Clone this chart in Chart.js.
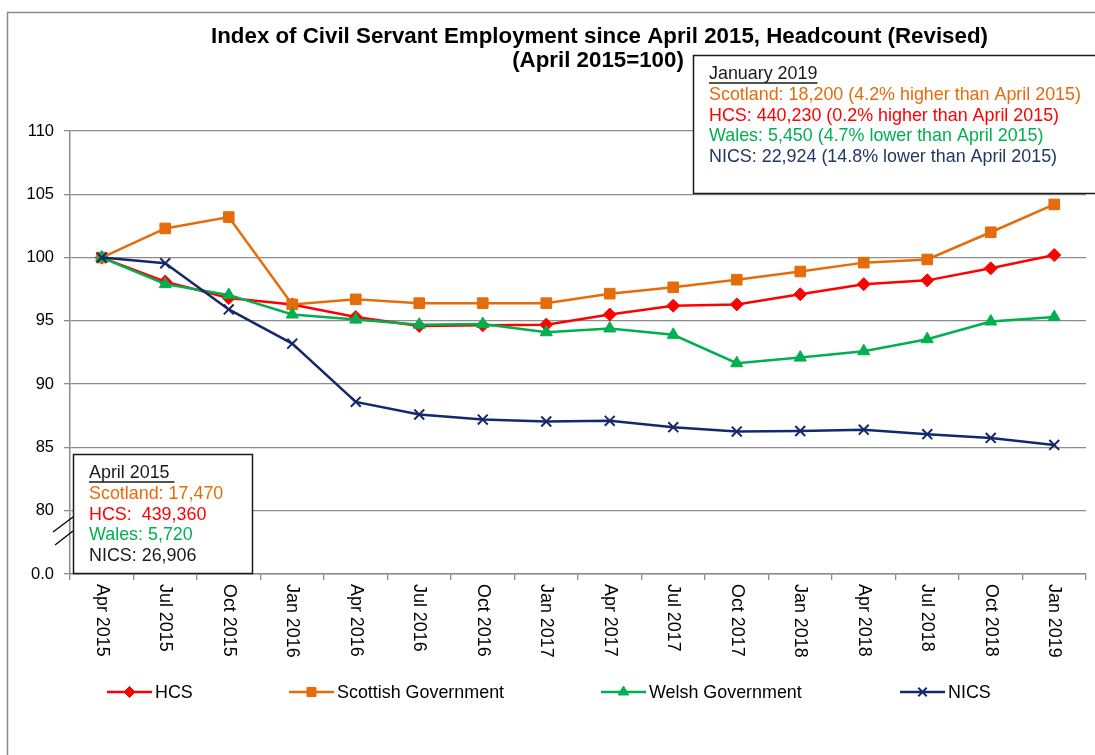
<!DOCTYPE html>
<html>
<head>
<meta charset="utf-8">
<script src="https://cdn.jsdelivr.net/npm/chart.js@4.4.0/dist/chart.umd.min.js"></script>
<style>
  html, body { margin: 0; padding: 0; background: #fff; }
  #wrap { width: 1095px; height: 755px; position: relative; }
</style>
</head>
<body>
<div id="wrap"><canvas id="c" width="1095" height="755"></canvas></div>
<script>
const categories = ["Apr 2015","Jul 2015","Oct 2015","Jan 2016","Apr 2016","Jul 2016","Oct 2016","Jan 2017",
  "Apr 2017","Jul 2017","Oct 2017","Jan 2018","Apr 2018","Jul 2018","Oct 2018","Jan 2019"];
const hcs      = [100, 98.1, 96.8, 96.3, 95.3, 94.6, 94.65, 94.7, 95.5, 96.2, 96.3, 97.1, 97.9, 98.2, 99.15, 100.2];
const scottish = [100, 102.3, 103.2, 96.3, 96.7, 96.4, 96.4, 96.4, 97.15, 97.65, 98.25, 98.9, 99.6, 99.85, 102.0, 104.2];
const welsh    = [100, 97.9, 97.05, 95.5, 95.1, 94.7, 94.75, 94.1, 94.4, 93.9, 91.65, 92.1, 92.6, 93.55, 94.95, 95.3];
const nics     = [100, 99.55, 95.9, 93.2, 88.6, 87.6, 87.2, 87.05, 87.1, 86.6, 86.25, 86.3, 86.4, 86.05, 85.75, 85.2];
const seriesNames = ["HCS", "Scottish Government", "Welsh Government", "NICS"];
const yTicks = [75, 80, 85, 90, 95, 100, 105, 110];
const yTickLabels = ["0.0", "80", "85", "90", "95", "100", "105", "110"];
const titleLines = ["Index of Civil Servant Employment since April 2015, Headcount (Revised)", "(April 2015=100)"];
const janBox = ["January 2019",
  "Scotland: 18,200 (4.2% higher than April 2015)",
  "HCS: 440,230 (0.2% higher than April 2015)",
  "Wales: 5,450 (4.7% lower than April 2015)",
  "NICS: 22,924 (14.8% lower than April 2015)"];
const aprBox = ["April 2015 ", "Scotland: 17,470", "HCS:  439,360", "Wales: 5,720", "NICS: 26,906"];

const C_RED = '#FF0000', C_ORANGE = '#E46C0A', C_GREEN = '#00B050', C_NAVY = '#14296B';
const FONT = '"Liberation Sans", Arial, sans-serif';
const GRID = '#8c8c8c';
const TXT = '17.9px ' + FONT;

const styles = [
  {color: C_RED, pointStyle: 'rectRot', radius: 6.5, order: 4},
  {color: C_ORANGE, pointStyle: 'rect', radius: 7.5, order: 3},
  {color: C_GREEN, pointStyle: 'triangle', radius: 7, order: 2},
  {color: C_NAVY, pointStyle: 'crossRot', radius: 7, order: 1}
];
const seriesData = [hcs, scottish, welsh, nics];

const datasets = seriesData.map((d, i) => ({
  label: seriesNames[i],
  data: d,
  borderColor: styles[i].color,
  backgroundColor: styles[i].color,
  pointBackgroundColor: styles[i].color,
  pointBorderColor: styles[i].color,
  pointStyle: styles[i].pointStyle,
  pointRadius: styles[i].radius,
  pointBorderWidth: styles[i].pointStyle === 'crossRot' ? 2 : 1,
  borderWidth: 2.5,
  tension: 0,
  order: styles[i].order,
  clip: false
}));

const decor = {
  id: 'decor',
  afterDraw(chart) {
    const ctx = chart.ctx, xs = chart.scales.x, area = chart.chartArea;
    ctx.save();
    // outer frame
    ctx.strokeStyle = '#8a8a8a'; ctx.lineWidth = 1.5;
    ctx.strokeRect(7.5, 12.5, 1100, 760);

    // title
    ctx.fillStyle = '#000';
    ctx.font = 'bold 22.3px ' + FONT;
    ctx.textAlign = 'center'; ctx.textBaseline = 'alphabetic';
    ctx.fillText(titleLines[0], 599.5, 43);
    ctx.fillText(titleLines[1], 598, 67);

    // x labels (rotated clockwise)
    ctx.font = TXT;
    ctx.textAlign = 'left'; ctx.textBaseline = 'middle';
    categories.forEach((c, i) => {
      const x = xs.getPixelForValue(i);
      ctx.save();
      ctx.translate(x, area.bottom + 10);
      ctx.rotate(Math.PI / 2);
      ctx.fillText(c, 0, 0);
      ctx.restore();
    });

    // axis break marks
    ctx.strokeStyle = '#000'; ctx.lineWidth = 1.3;
    ctx.beginPath();
    ctx.moveTo(53, 532); ctx.lineTo(73, 517);
    ctx.moveTo(55, 545); ctx.lineTo(73, 531);
    ctx.stroke();

    // legend
    const legX = [107, 289, 601, 900];
    const legY = 692;
    ctx.font = TXT;
    ctx.textAlign = 'left'; ctx.textBaseline = 'middle';
    seriesNames.forEach((n, i) => {
      const x0 = legX[i];
      ctx.strokeStyle = styles[i].color; ctx.fillStyle = styles[i].color;
      ctx.lineWidth = 2.5;
      ctx.beginPath(); ctx.moveTo(x0, legY); ctx.lineTo(x0 + 45, legY); ctx.stroke();
      ctx.lineWidth = styles[i].pointStyle === 'crossRot' ? 2 : 1;
      Chart.helpers.drawPoint(ctx, {pointStyle: styles[i].pointStyle, radius: styles[i].radius * 0.85, rotation: 0, borderWidth: ctx.lineWidth}, x0 + 22.5, legY);
      ctx.fillStyle = '#000';
      ctx.fillText(n, x0 + 48, legY + 1);
    });

    // annotation boxes
    const box = (x, y, w, h, lines, colors, tx, ty0, dy) => {
      ctx.fillStyle = '#fff';
      ctx.fillRect(x, y, w, h);
      ctx.strokeStyle = '#1a1a1a'; ctx.lineWidth = 1.5;
      ctx.strokeRect(x, y, w, h);
      ctx.font = TXT;
      ctx.textAlign = 'left'; ctx.textBaseline = 'middle';
      lines.forEach((t, i) => {
        ctx.fillStyle = colors[i];
        const yy = ty0 + i * dy;
        ctx.fillText(t, tx, yy);
        if (i === 0) {
          const w0 = ctx.measureText(t).width;
          ctx.strokeStyle = colors[i]; ctx.lineWidth = 1.3;
          ctx.beginPath(); ctx.moveTo(tx, yy + 9); ctx.lineTo(tx + w0, yy + 9); ctx.stroke();
        }
      });
    };
    box(693.5, 55.5, 420, 138, janBox, ['#1a1a1a', C_ORANGE, C_RED, C_GREEN, '#1F3864'], 709, 74, 20.8);
    box(73.5, 454.5, 179, 119, aprBox, ['#1a1a1a', C_ORANGE, C_RED, C_GREEN, '#1a1a1a'], 89, 473, 20.8);
    ctx.restore();
  }
};

new Chart(document.getElementById('c'), {
  type: 'line',
  data: { labels: categories, datasets },
  options: {
    responsive: false,
    animation: false,
    devicePixelRatio: 1,
    layout: { padding: { top: 131, right: 9, bottom: 0, left: 0 } },
    plugins: { legend: { display: false }, title: { display: false }, tooltip: { enabled: false } },
    scales: {
      x: {
        type: 'category',
        offset: true,
        afterFit: (s) => { s.height = 755 - 574; },
        grid: { display: true, drawOnChartArea: false, drawTicks: true, tickLength: 6, offset: true, color: GRID, lineWidth: 1.3 },
        border: { display: true, color: GRID, width: 1.5 },
        ticks: { display: false }
      },
      y: {
        min: 75, max: 110,
        afterFit: (s) => { s.width = 70; },
        afterBuildTicks: (s) => { s.ticks = yTicks.map(v => ({ value: v })); },
        grid: { color: GRID, lineWidth: 1.3, drawTicks: true, tickLength: 6 },
        border: { display: true, color: GRID, width: 1.5 },
        ticks: {
          padding: 10,
          color: '#000',
          font: { family: FONT, size: 16.5 },
          callback: (v) => { const k = yTicks.indexOf(v); return k >= 0 ? yTickLabels[k] : ''; }
        }
      }
    }
  },
  plugins: [decor]
});
</script>
</body>
</html>
